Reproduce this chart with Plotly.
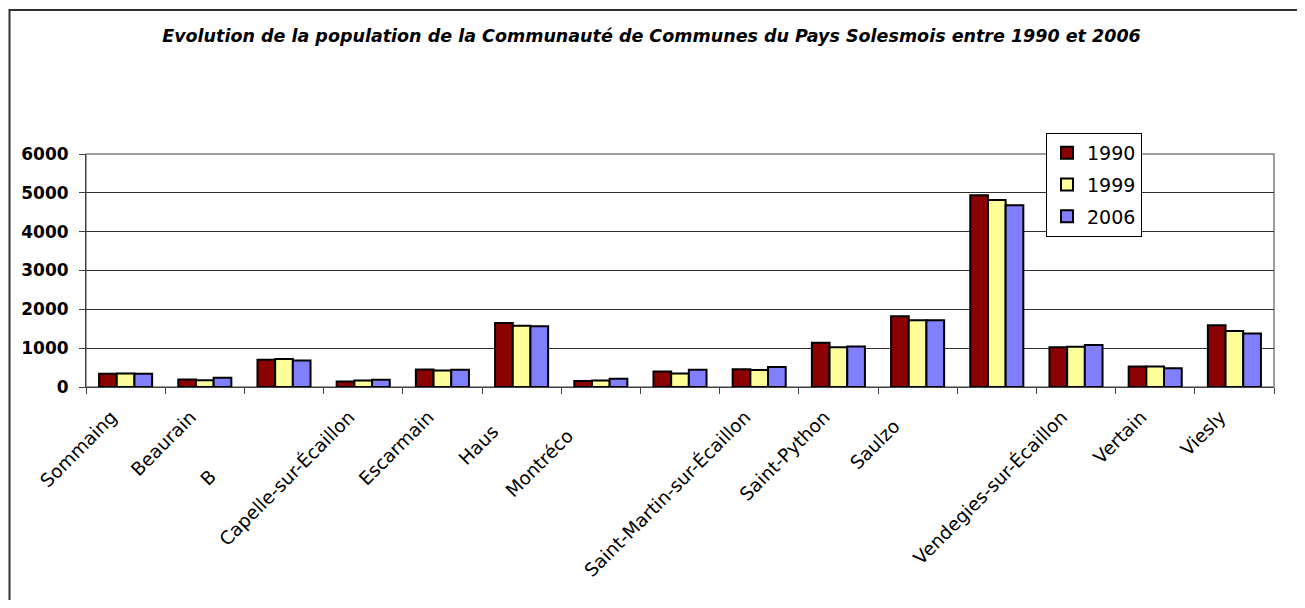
import plotly.graph_objects as go

communes = ["Sommaing", "Beaurain", "Bermerain", "Capelle-sur-Écaillon", "Escarmain",
            "Haussy", "Montrécourt", "Romeries", "Saint-Martin-sur-Écaillon",
            "Saint-Python", "Saulzoir", "Solesmes", "Vendegies-sur-Écaillon",
            "Vertain", "Viesly"]
# (visible part, hidden remainder) of each category label, as clipped in the original
label_visible = ["Sommaing", "Beaurain", "B", "Capelle-sur-Écaillon", "Escarmain",
                 "Haus", "Montréco", "", "Saint-Martin-sur-Écaillon",
                 "Saint-Python", "Saulzo", "", "Vendegies-sur-Écaillon",
                 "Vertain", "Viesly"]
label_hidden = ["", "", "ermerain", "", "", "sy", "urt", "", "", "", "ir", "", "", "", ""]
pop_1990 = [340, 190, 700, 140, 450, 1650, 155, 400, 460, 1140, 1825, 4940, 1025, 530, 1590]
pop_1999 = [345, 175, 720, 165, 425, 1575, 165, 350, 435, 1025, 1720, 4815, 1035, 530, 1445]
pop_2006 = [340, 235, 680, 185, 445, 1565, 215, 445, 515, 1045, 1720, 4680, 1080, 485, 1375]
years = ["1990", "1999", "2006"]
colors = ["#8B0000", "#FFFF99", "#8080FF"]
y_ticks = [0, 1000, 2000, 3000, 4000, 5000, 6000]

tick_text = [v + (f"<span style='color:rgba(0,0,0,0)'>{h}</span>" if h else "")
             for v, h in zip(label_visible, label_hidden)]

# page body margin offset (the html body has an 8px margin)
OFF = 8
W, H = 1305 - 2 * OFF, 608 - 2 * OFF
# plot area in reference-page pixels
L, R, T, B = 86, 1274, 154, 387

def px_x(px):
    return (px - L) / (R - L)

def px_y(py):
    return (B - py) / (B - T)

fig = go.Figure()
for yr, vals, col in zip(years, [pop_1990, pop_1999, pop_2006], colors):
    fig.add_trace(go.Bar(
        x=communes, y=vals, name=yr, legendgroup=yr,
        marker=dict(color=col, line=dict(color="black", width=2)),
    ))

FONT = "DejaVu Sans"
fig.update_layout(
    width=W, height=H,
    margin=dict(l=L - OFF, r=W - (R - OFF), t=T - OFF, b=H - (B - OFF), pad=0),
    paper_bgcolor="white", plot_bgcolor="white",
    barmode="group", bargap=0.33, bargroupgap=0,
    title=dict(
        text="<b><i>Evolution de la population de la Communauté de Communes du Pays Solesmois entre 1990 et 2006</i></b>",
        x=(651.5 - OFF) / W, xanchor="center", y=1 - (36 - OFF) / H, yanchor="middle",
        font=dict(family=FONT, size=17.5, color="black"),
    ),
    legend=dict(
        x=px_x(1046), y=px_y(133), xanchor="left", yanchor="top",
        bgcolor="white", bordercolor="black", borderwidth=1,
        font=dict(family=FONT, size=19, color="black"),
        tracegroupgap=4,
    ),
    xaxis=dict(
        tickmode="array", tickvals=communes, ticktext=tick_text,
        tickangle=-45, tickfont=dict(family=FONT, size=18.5, color="black"),
        ticklabelshift=-14, ticklabelstandoff=11,
        showline=True, linecolor="#404040", linewidth=1,
        ticks="outside", tickson="boundaries", ticklen=6, tickcolor="#404040",
        showgrid=False,
    ),
    yaxis=dict(
        range=[0, 6000], tickvals=y_ticks,
        tickfont=dict(family=FONT, size=17, color="black", weight="bold"),
        ticklabelstandoff=7,
        showline=True, linecolor="#404040", linewidth=1,
        ticks="outside", ticklen=6, tickcolor="#404040",
        showgrid=True, gridcolor="#303030", gridwidth=1,
        zeroline=False,
    ),
    shapes=[
        dict(type="rect", xref="paper", yref="paper", x0=0, x1=1, y0=0, y1=1,
             line=dict(color="#808080", width=1.5), layer="below"),
        dict(type="rect", xref="paper", yref="paper",
             x0=px_x(9.5), x1=px_x(1340), y0=px_y(10), y1=px_y(650),
             line=dict(color="#303030", width=2), layer="above"),
    ],
    showlegend=True,
)

fig.write_html("out.html")
